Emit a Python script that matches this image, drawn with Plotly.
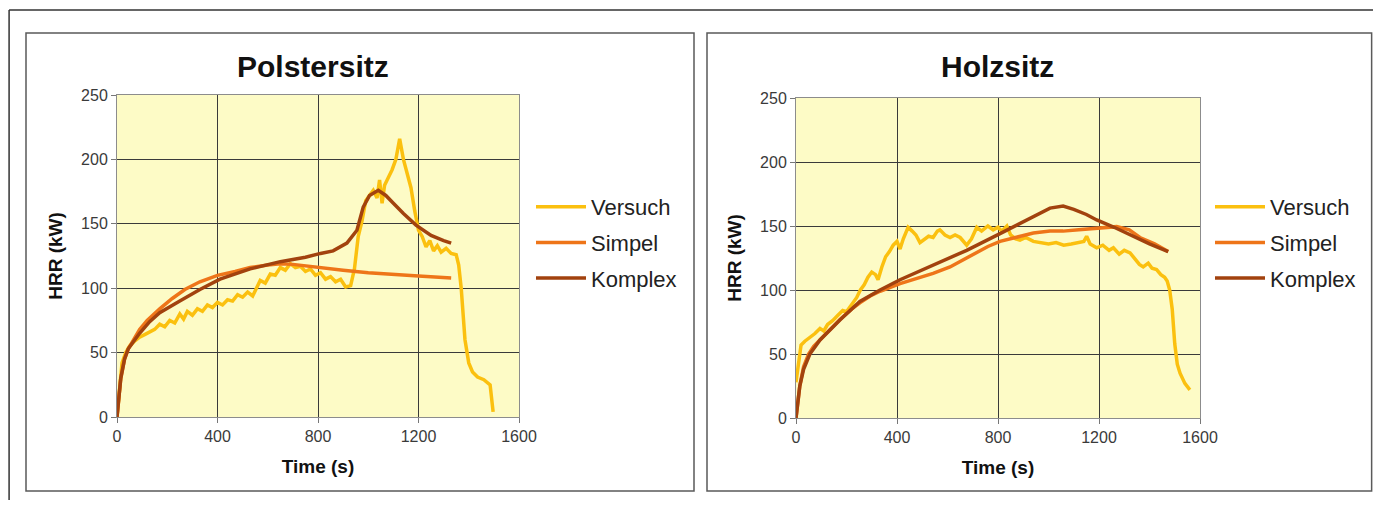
import plotly.graph_objects as go

OFF = 8  # the page places the figure 8px from the top-left corner
W, H = 1381 - 2 * OFF, 508 - 2 * OFF

# ---------------- data ----------------
series_names = ["Versuch", "Simpel", "Komplex"]
panel_titles = ["Polstersitz", "Holzsitz"]
x_ticks = [0, 400, 800, 1200, 1600]
y_ticks = [0, 50, 100, 150, 200, 250]

# Polstersitz
p_versuch_t = [0, 10, 20, 35, 50, 70, 90, 110, 130, 150, 170, 190, 210, 230, 250, 265, 280, 300, 320, 340,
               360, 380, 400, 420, 440, 460, 480, 500, 520, 540, 555, 570, 590, 610, 630, 650, 670, 690, 710, 730,
               750, 770, 790, 810, 830, 850, 870, 890, 910, 930, 945, 960, 975, 990, 1005, 1020, 1035, 1045, 1055, 1065,
               1080, 1095, 1110, 1125, 1140, 1155, 1170, 1185, 1200, 1215, 1230, 1245, 1260, 1275, 1290, 1310, 1330, 1350, 1360, 1370,
               1385, 1400, 1415, 1435, 1460, 1485, 1497]
p_versuch_y = [0, 25, 42, 50, 55, 59, 62, 64, 66, 68, 72, 70, 75, 73, 80, 76, 82, 79, 84, 82,
               87, 85, 89, 87, 91, 90, 95, 93, 97, 94, 100, 106, 104, 111, 110, 116, 114, 119, 116, 117,
               113, 115, 110, 112, 107, 109, 105, 107, 101, 102, 115, 140, 152, 168, 172, 176, 170, 184, 166, 180,
               186, 192, 200, 216, 200, 190, 178, 160, 145, 140, 132, 137, 129, 133, 128, 131, 127, 126, 118, 100,
               60, 42, 35, 31, 29, 25, 4]
p_simpel_t = [0, 15, 30, 45, 60, 90, 120, 170, 220, 270, 330, 400, 470, 530, 600, 650, 700, 800, 900, 1000, 1100, 1200, 1330]
p_simpel_y = [0, 30, 45, 53, 58, 68, 75, 84, 92, 99, 105, 110, 113, 116, 118, 119, 118.5, 116, 114, 112, 110.5, 109.5, 108]
p_komplex_t = [0, 15, 30, 45, 60, 90, 130, 170, 250, 330, 410, 530, 650, 750, 810, 860, 915, 955, 980, 1005,
               1040, 1070, 1100, 1140, 1190, 1250, 1300, 1330]
p_komplex_y = [0, 30, 45, 53, 57, 65, 74, 81, 90, 99, 107, 115, 120.6, 124, 127, 129, 135, 145, 163, 172,
               176, 172, 166, 158, 149, 141, 137, 135]

# Holzsitz
h_versuch_t = [0, 10, 20, 35, 55, 75, 95, 110, 125, 145, 165, 185, 200, 220, 240, 255, 270, 285, 300, 315,
               325, 340, 355, 370, 385, 400, 412, 425, 444, 460, 475, 491, 510, 525, 543, 560, 570, 590, 610, 630,
               650, 676, 695, 716, 735, 760, 781, 800, 815, 835, 850, 870, 887, 910, 940, 970, 1000, 1030, 1060, 1090,
               1120, 1140, 1151, 1165, 1191, 1215, 1240, 1257, 1280, 1300, 1323, 1345, 1360, 1375, 1395, 1410, 1428, 1445, 1460, 1470,
               1480, 1490, 1500, 1510, 1521, 1540, 1560]
h_versuch_y = [28, 45, 57, 60, 63, 66, 70, 68, 73, 76, 80, 84, 83, 88, 94, 100, 104, 110, 114, 112,
               108, 118, 126, 130, 135, 138, 132, 140, 149, 146, 143, 137, 140, 142, 141, 146, 147, 143, 141, 143,
               141, 135, 140, 149, 146, 150, 147, 149, 146, 150, 143, 140, 139, 141, 138, 137, 136, 137, 135, 136,
               137, 138, 142, 136, 133, 135, 131, 133, 128, 131, 129, 123, 120, 118, 121, 117, 116, 112, 110, 107,
               100, 85, 58, 42, 35, 27, 22]
h_simpel_t = [0, 15, 30, 50, 70, 100, 140, 174, 220, 253, 300, 333, 412, 480, 543, 610, 676, 720, 760, 808,
              870, 940, 1006, 1058, 1120, 1191, 1270, 1320, 1362, 1420, 1474]
h_simpel_y = [0, 25, 40, 50, 56, 62, 70, 77, 85, 90, 96, 99, 105, 109, 113, 118, 125, 130, 134, 138,
              141, 144.5, 146, 146, 147, 148, 149.5, 147, 141, 136, 130]
h_komplex_t = [0, 15, 30, 55, 95, 174, 253, 333, 412, 543, 676, 808, 940, 1006, 1058, 1100, 1150, 1191, 1260, 1323, 1400, 1474]
h_komplex_y = [0, 25, 38, 50, 61, 76.6, 91, 100, 108, 119.5, 131, 144, 157, 164, 165.6, 163, 159, 154.7, 149, 143, 136, 130]

# ---------------- style ----------------
colors = {"Versuch": "#FBC00F", "Simpel": "#EE7519", "Komplex": "#A2420E"}
FONT = "Liberation Sans, Arial, sans-serif"
BG = "#FDFBC6"


def px(x):
    return min(0.999, max(0.0008, (x - OFF) / W))


def py(y):
    return min(1.0, max(0.0, 1 - (y - OFF) / H))


fig = go.Figure()

panels = [
    ("x", "y", "legend", [(p_versuch_t, p_versuch_y), (p_simpel_t, p_simpel_y), (p_komplex_t, p_komplex_y)]),
    ("x2", "y2", "legend2", [(h_versuch_t, h_versuch_y), (h_simpel_t, h_simpel_y), (h_komplex_t, h_komplex_y)]),
]
for xa, ya, lg, data in panels:
    for name, (t, v) in zip(series_names, data):
        fig.add_trace(go.Scatter(
            x=t, y=v, mode="lines", name=name, xaxis=xa, yaxis=ya, legend=lg,
            legendgroup=lg + name,
            line=dict(color=colors[name], width=3.5, shape="linear"),
            hoverinfo="skip",
        ))

axis_common = dict(
    showgrid=True, gridcolor="#3a3a3a", gridwidth=1,
    showline=True, linecolor="#8c8c8c", linewidth=1, mirror=True,
    ticks="outside", ticklen=5, tickcolor="#777",
    tickfont=dict(family=FONT, size=16, color="#3a3a3a"),
    zeroline=False, fixedrange=True, automargin=False,
)
title_font = dict(family=FONT, size=19, color="#111", weight="bold")

# Left plot area: x 117..519, y 95..417 ; Right plot area: x 796..1200, y 98..418 (page pixels)
fig.update_layout(
    width=W, height=H,
    margin=dict(l=0, r=0, t=0, b=0, autoexpand=False),
    paper_bgcolor="white",
    plot_bgcolor=BG,
    showlegend=True,
    xaxis=dict(domain=[px(117), px(519)], range=[0, 1600], tickvals=x_ticks, anchor="y",
               title=dict(text="Time (s)", font=title_font, standoff=15), **axis_common),
    yaxis=dict(domain=[py(417), py(95)], range=[0, 250], tickvals=y_ticks, anchor="x",
               title=dict(text="HRR (kW)", font=title_font, standoff=13), **axis_common),
    xaxis2=dict(domain=[px(796), px(1200)], range=[0, 1600], tickvals=x_ticks, anchor="y2",
                title=dict(text="Time (s)", font=title_font, standoff=15), **axis_common),
    yaxis2=dict(domain=[py(418), py(98)], range=[0, 250], tickvals=y_ticks, anchor="x2",
                title=dict(text="HRR (kW)", font=title_font, standoff=13), **axis_common),
    legend=dict(x=px(531), y=py(186), xanchor="left", yanchor="top",
                font=dict(family=FONT, size=22, color="#222"), bgcolor="rgba(0,0,0,0)",
                itemwidth=50, tracegroupgap=4, traceorder="grouped"),
    legend2=dict(x=px(1210), y=py(186), xanchor="left", yanchor="top",
                 font=dict(family=FONT, size=22, color="#222"), bgcolor="rgba(0,0,0,0)",
                 itemwidth=50, tracegroupgap=4, traceorder="grouped"),
)

# panel titles
for title, cx in zip(panel_titles, [313, 997]):
    fig.add_annotation(text=title, x=px(cx), y=py(66), xref="paper", yref="paper",
                       showarrow=False, xanchor="center", yanchor="middle",
                       font=dict(family=FONT, size=30, color="#111", weight="bold"))

# frames
shapes = [
    dict(type="line", x0=px(7), x1=1, y0=py(10), y1=py(10), line=dict(color="#333", width=1.5)),
    dict(type="line", x0=px(7), x1=px(7), y0=py(10), y1=0, line=dict(color="#333", width=1.5)),
    dict(type="rect", x0=px(26), x1=px(694), y0=py(491), y1=py(33), line=dict(color="#5a5a5a", width=1.5)),
    dict(type="rect", x0=px(707), x1=px(1377), y0=py(491), y1=py(33), line=dict(color="#5a5a5a", width=1.5)),
]
for s in shapes:
    fig.add_shape(xref="paper", yref="paper", layer="below", **s)

fig.write_html("out.html")
